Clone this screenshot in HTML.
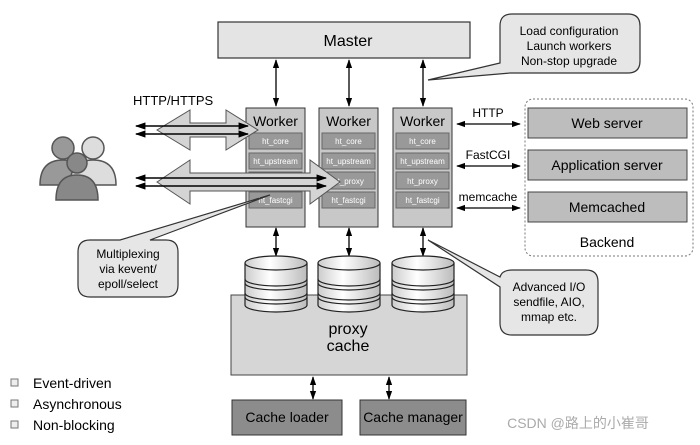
<!DOCTYPE html>
<html><head><meta charset="utf-8"><style>
html,body{margin:0;padding:0;background:#fff;}
svg{display:block;font-family:"Liberation Sans","Noto Sans CJK SC",sans-serif;}
</style></head><body>
<svg width="700" height="445" viewBox="0 0 700 445" xmlns="http://www.w3.org/2000/svg">
<defs>
<marker id="ah" viewBox="0 0 10 10" refX="9" refY="5" markerWidth="7" markerHeight="7" orient="auto-start-reverse"><path d="M0,1.5 L10,5 L0,8.5 z" fill="#000"/></marker>
<linearGradient id="cyl" x1="0" x2="1" y1="0" y2="0"><stop offset="0" stop-color="#ccc"/><stop offset=".4" stop-color="#fff"/><stop offset="1" stop-color="#bbb"/></linearGradient>
</defs>
<!-- Master -->
<rect x="218" y="22" width="252" height="36" fill="#e4e4e4" stroke="#333" stroke-width="1.2"/>
<text x="348" y="46" font-size="16" text-anchor="middle">Master</text>
<!-- master-worker arrows -->
<g stroke="#000" stroke-width="1.3">
<line x1="276" y1="60" x2="276" y2="106" marker-start="url(#ah)" marker-end="url(#ah)"/>
<line x1="349" y1="60" x2="349" y2="106" marker-start="url(#ah)" marker-end="url(#ah)"/>
<line x1="423" y1="60" x2="423" y2="106" marker-start="url(#ah)" marker-end="url(#ah)"/>
<line x1="276" y1="228" x2="276" y2="256" marker-start="url(#ah)" marker-end="url(#ah)"/>
<line x1="349" y1="228" x2="349" y2="256" marker-start="url(#ah)" marker-end="url(#ah)"/>
<line x1="423" y1="228" x2="423" y2="256" marker-start="url(#ah)" marker-end="url(#ah)"/>
<line x1="313" y1="377" x2="313" y2="399" marker-start="url(#ah)" marker-end="url(#ah)"/>
<line x1="389" y1="377" x2="389" y2="399" marker-start="url(#ah)" marker-end="url(#ah)"/>
<line x1="457" y1="124" x2="520" y2="124" marker-start="url(#ah)" marker-end="url(#ah)"/>
<line x1="457" y1="166" x2="520" y2="166" marker-start="url(#ah)" marker-end="url(#ah)"/>
<line x1="457" y1="208" x2="520" y2="208" marker-start="url(#ah)" marker-end="url(#ah)"/>
</g>
<!-- Workers -->
<g font-size="14">
<g>
<rect x="246" y="108" width="59" height="119" fill="#c8c8c8" stroke="#333"/>
<text x="275.5" y="126" text-anchor="middle">Worker</text>
</g>
<g>
<rect x="319" y="108" width="59" height="119" fill="#c8c8c8" stroke="#333"/>
<text x="348.5" y="126" text-anchor="middle">Worker</text>
</g>
<g>
<rect x="393" y="108" width="59" height="119" fill="#c8c8c8" stroke="#333"/>
<text x="422.5" y="126" text-anchor="middle">Worker</text>
</g>
</g>
<g fill="#999" stroke="#666">
<rect x="249" y="133" width="53" height="16"/><rect x="249" y="153" width="53" height="16"/><rect x="249" y="172" width="53" height="17"/><rect x="249" y="192" width="53" height="16"/>
<rect x="322" y="133" width="53" height="16"/><rect x="322" y="153" width="53" height="16"/><rect x="322" y="172" width="53" height="17"/><rect x="322" y="192" width="53" height="16"/>
<rect x="396" y="133" width="53" height="16"/><rect x="396" y="153" width="53" height="16"/><rect x="396" y="172" width="53" height="17"/><rect x="396" y="192" width="53" height="16"/>
</g>
<g font-size="8" fill="#fff" text-anchor="middle">
<text x="275.5" y="144">ht_core</text><text x="275.5" y="164">ht_upstream</text><text x="275.5" y="203">ht_fastcgi</text>
<text x="348.5" y="144">ht_core</text><text x="348.5" y="164">ht_upstream</text><text x="348.5" y="184">ht_proxy</text><text x="348.5" y="203">ht_fastcgi</text>
<text x="422.5" y="144">ht_core</text><text x="422.5" y="164">ht_upstream</text><text x="422.5" y="184">ht_proxy</text><text x="422.5" y="203">ht_fastcgi</text>
</g>
<!-- big arrows -->
<path d="M157,130 L190,110 L190,123 L226,123 L226,110 L258,130 L226,150 L226,137 L190,137 L190,150 Z" fill="#d4d4d4" stroke="#555"/>
<path d="M157,182 L190,160 L190,173 L310,173 L310,160 L340,182 L310,204 L310,191 L190,191 L190,204 Z" fill="#d4d4d4" stroke="#555"/>
<g stroke="#000" stroke-width="1.5">
<line x1="136" y1="126" x2="248" y2="126" marker-start="url(#ah)" marker-end="url(#ah)"/>
<line x1="136" y1="134" x2="248" y2="134" marker-start="url(#ah)" marker-end="url(#ah)"/>
<line x1="136" y1="178" x2="326" y2="178" marker-start="url(#ah)" marker-end="url(#ah)"/>
<line x1="136" y1="186" x2="326" y2="186" marker-start="url(#ah)" marker-end="url(#ah)"/>
</g>
<text x="133" y="105" font-size="13">HTTP/HTTPS</text>
<!-- people -->
<g stroke="#555" stroke-width="1.5">
<circle cx="63" cy="148" r="11" fill="#999"/><path d="M40,185 Q40,160 63,160 Q86,160 86,185 Z" fill="#999"/>
<circle cx="93" cy="148" r="11" fill="#ddd"/><path d="M70,185 Q70,160 93,160 Q116,160 116,185 Z" fill="#ddd"/>
<circle cx="77" cy="163" r="10" fill="#888"/><path d="M56,200 Q56,175 77,175 Q98,175 98,200 Z" fill="#888"/>
</g>
<!-- Backend -->
<rect x="525" y="99" width="168" height="157" rx="8" fill="none" stroke="#777" stroke-dasharray="2,2"/>
<g fill="#bdbdbd" stroke="#444">
<rect x="528" y="108" width="159" height="30"/><rect x="528" y="150" width="159" height="30"/><rect x="528" y="192" width="159" height="30"/>
</g>
<g font-size="14" text-anchor="middle">
<text x="607" y="128">Web server</text><text x="607" y="170">Application server</text><text x="607" y="212">Memcached</text>
<text x="607" y="247">Backend</text>
</g>
<g font-size="12" text-anchor="middle">
<text x="488" y="117">HTTP</text><text x="488" y="159">FastCGI</text><text x="488" y="201">memcache</text>
</g>
<!-- proxy cache -->
<rect x="231" y="295" width="236" height="80" fill="#d6d6d6" stroke="#444"/>
<g font-size="16" text-anchor="middle"><text x="348" y="334">proxy</text><text x="348" y="351">cache</text></g>
<g stroke="#222" stroke-width="1.2" fill="url(#cyl)">
<g transform="translate(276,0)"><path d="M-31,263 L-31,305 A31,7 0 0 0 31,305 L31,263"/><ellipse cx="0" cy="263" rx="31" ry="7"/><path d="M-31,279 A31,7 0 0 0 31,279 M-31,283 A31,7 0 0 0 31,283 M-31,293 A31,7 0 0 0 31,293 M-31,297 A31,7 0 0 0 31,297" fill="none"/></g>
<g transform="translate(349,0)"><path d="M-31,263 L-31,305 A31,7 0 0 0 31,305 L31,263"/><ellipse cx="0" cy="263" rx="31" ry="7"/><path d="M-31,279 A31,7 0 0 0 31,279 M-31,283 A31,7 0 0 0 31,283 M-31,293 A31,7 0 0 0 31,293 M-31,297 A31,7 0 0 0 31,297" fill="none"/></g>
<g transform="translate(423,0)"><path d="M-31,263 L-31,305 A31,7 0 0 0 31,305 L31,263"/><ellipse cx="0" cy="263" rx="31" ry="7"/><path d="M-31,279 A31,7 0 0 0 31,279 M-31,283 A31,7 0 0 0 31,283 M-31,293 A31,7 0 0 0 31,293 M-31,297 A31,7 0 0 0 31,297" fill="none"/></g>
</g>
<!-- cache loader/manager -->
<rect x="232" y="400" width="110" height="35" fill="#8c8c8c" stroke="#333"/>
<rect x="360" y="400" width="106" height="35" fill="#8c8c8c" stroke="#333"/>
<g font-size="14" text-anchor="middle"><text x="287" y="422">Cache loader</text><text x="413" y="422">Cache manager</text></g>
<!-- callouts -->
<g fill="#e6e6e6" stroke="#333" stroke-width="1.2">
<path d="M512,14 L628,14 Q640,14 640,26 L640,61 Q640,73 628,73 L510,73 L428,80 L500,63 L500,26 Q500,14 512,14 Z"/>
<path d="M512,270 L586,270 Q598,270 598,282 L598,323 Q598,335 586,335 L512,335 Q500,335 500,323 L500,287 L428,240 L500,277 Q502,270 512,270 Z"/>
<path d="M90,240 L120,240 L270,195 L150,240 L166,240 Q178,240 178,252 L178,285 Q178,297 166,297 L90,297 Q78,297 78,285 L78,252 Q78,240 90,240 Z"/>
</g>
<g font-size="12" text-anchor="middle">
<text x="569" y="35">Load configuration</text><text x="569" y="50">Launch workers</text><text x="569" y="65">Non-stop upgrade</text>
<text x="549" y="291">Advanced I/O</text><text x="549" y="306">sendfile, AIO,</text><text x="549" y="321">mmap etc.</text>
<text x="128" y="258">Multiplexing</text><text x="128" y="273">via kevent/</text><text x="128" y="288">epoll/select</text>
</g>
<!-- bullets -->
<g fill="#eee" stroke="#777"><rect x="11" y="379" width="7" height="7"/><rect x="11" y="400" width="7" height="7"/><rect x="11" y="421" width="7" height="7"/></g>
<g font-size="14"><text x="33" y="388">Event-driven</text><text x="33" y="409">Asynchronous</text><text x="33" y="430">Non-blocking</text></g>
<text x="578" y="428" font-size="14" fill="#aaa" text-anchor="middle">CSDN @路上的小崔哥</text>
</svg>
</body></html>
